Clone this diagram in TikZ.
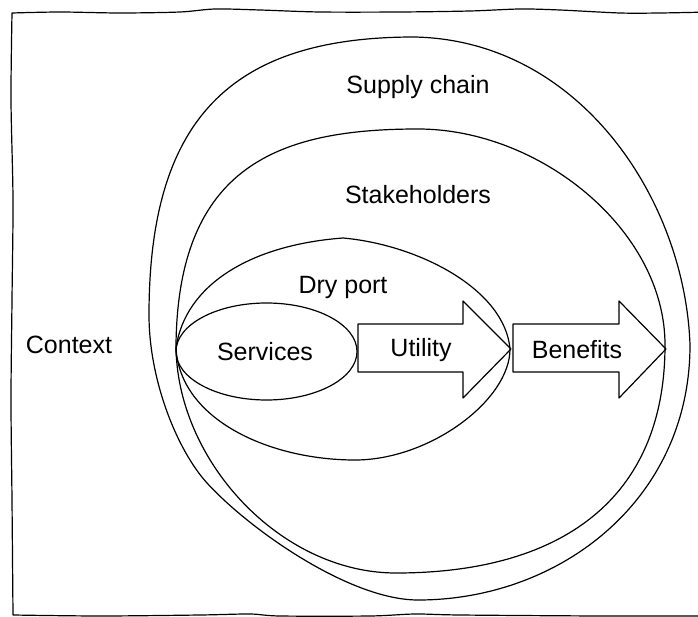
\documentclass[tikz,border=0pt]{standalone}
\usepackage{fontspec}
\setmainfont{Liberation Sans}
\begin{document}
\begin{tikzpicture}[x=1pt,y=-1pt,
  sketch/.style={draw=black,line width=1.2pt,line join=round,line cap=round},
  lbl/.style={inner sep=0pt,font=\fontsize{25}{29}\selectfont}]
\useasboundingbox (0,0) rectangle (698,617);
\clip (0,0) rectangle (698,617);
% context frame
\draw[sketch] plot[smooth,tension=0.5] coordinates {(710,12) (660,13) (620,13) (560,10) (520,9) (470,11) (400,12) (320,12) (260,10) (215,9) (180,12) (120,13) (60,12) (12,13)}
  -- plot[smooth,tension=0.5] coordinates {(12,13) (11,100) (13,200) (12,300) (11,400) (12,500) (13,615)}
  -- plot[smooth,tension=0.5] coordinates {(13,615) (100,616) (200,615) (250,614) (280,616) (370,616) (415,614) (460,615) (600,616) (710,616)};
% supply chain
\draw[sketch] (149,315) .. controls (149,120) and (230,37) .. (414,37)
  .. controls (580,40) and (685,200) .. (690,345)
  .. controls (690,500) and (560,600) .. (418,600)
  .. controls (350,600) and (250,530) .. (207,483)
  .. controls (177,450) and (149,380) .. cycle;
% stakeholders
\draw[sketch] (176,345) .. controls (178,165) and (280,129) .. (418,129)
  .. controls (540,129) and (665,230) .. (665,345)
  .. controls (665,500) and (560,573) .. (396,573)
  .. controls (280,573) and (176,460) .. cycle;
% dry port
\draw[sketch] (176,348) .. controls (185,285) and (250,245) .. (343,238)
  .. controls (420,245) and (505,290) .. (510,349)
  .. controls (510,400) and (430,460) .. (355,460)
  .. controls (270,460) and (180,420) .. cycle;
% services
\draw[sketch] (266.5,351.5) ellipse [x radius=90.5, y radius=48.5];
% utility arrow
\draw[sketch] (358,324) -- (463,324) -- (463,301) -- (511,349) -- (463,398) -- (463,372) -- (358,372) -- cycle;
% benefits arrow
\draw[sketch] (513,324) -- (619,324) -- (619,301) -- (666,349) -- (619,398) -- (619,372) -- (513,372) -- cycle;
% labels
\node[lbl] (supply) at (418,87) {Supply chain};
\node[lbl] (stake) at (418,195) {Stakeholders};
\node[lbl] (dry) at (343,287) {Dry port};
\node[lbl] (context) at (69,345) {Context};
\node[lbl] (services) at (265,352) {Services};
\node[lbl] (utility) at (421,350) {Utility};
\node[lbl] (benefits) at (577,350) {Benefits};
\end{tikzpicture}
\end{document}
